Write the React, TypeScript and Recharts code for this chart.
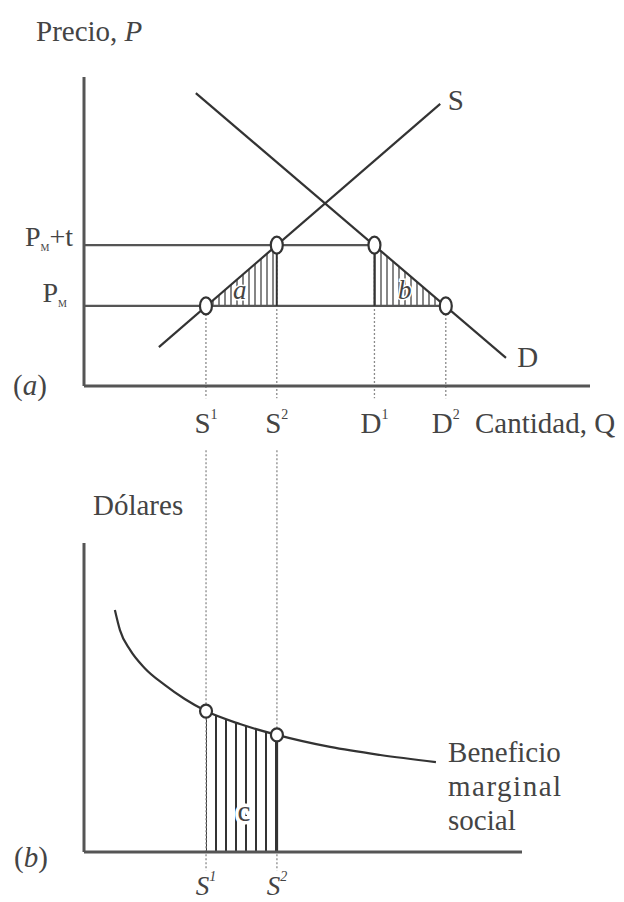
import { ComposedChart, Line, Area, Scatter, XAxis, YAxis, ReferenceLine, ReferenceDot, Label } from 'recharts';

const SERIF = '"Liberation Serif", "DejaVu Serif", serif';
const INK = '#333';
const TEXT = '#444';
const AXIS = '#555';
const DOTTED = '#8a8a8a';

// ---- panel (a): supply / demand with tariff (both axes in 0-100 units) ----
const PM = 25.9; // world price
const PMT = 45.6; // world price + tariff
const S1 = 24.1;
const S2 = 38.1;
const D1 = 57.4;
const D2 = 71.5;

const supply = [{ q: 14.8, p: 12.6 }, { q: 70.4, p: 91.3 }];
const demand = [{ q: 22.1, p: 94.8 }, { q: 83.4, p: 9.1 }];
const taxPriceLine = [{ q: 0, p: PMT }, { q: D1, p: PMT }];
const worldPriceLine = [{ q: 0, p: PM }, { q: D2, p: PM }];
const areaA = [{ q: S1, band: [PM, PM] }, { q: S2, band: [PM, PMT] }];
const areaB = [{ q: D1, band: [PM, PMT] }, { q: D2, band: [PM, PM] }];
const edgeA = [{ q: S2, p: PM }, { q: S2, p: PMT }];
const edgeB = [{ q: D1, p: PM }, { q: D1, p: PMT }];
const circlesA = [{ q: S1, p: PM }, { q: S2, p: PMT }, { q: D1, p: PMT }, { q: D2, p: PM }];
const qTicksA = [S1, S2, D1, D2];
const qLabelsA = [['S', '1'], ['S', '2'], ['D', '1'], ['D', '2']];
const pTicksA = [PM, PMT];

// ---- panel (b): marginal social benefit ----
const Q_MAX_B = 86.5;
const benefit = [
  { q: 6.1, p: 78.3 },
  { q: 7.1, p: 71.8 },
  { q: 9.1, p: 65.4 },
  { q: 12.0, p: 59.5 },
  { q: 16.0, p: 54.0 },
  { q: 19.9, p: 49.5 },
  { q: S1, p: 45.6 },
  { q: 30.8, p: 41.4 },
  { q: S2, p: 37.9 },
  { q: 48.6, p: 34.0 },
  { q: 58.5, p: 31.4 },
  { q: 69.5, p: 29.1 },
];
const areaC = benefit.filter((d) => d.q >= S1 && d.q <= S2);
const circlesB = benefit.filter((d) => d.q === S1 || d.q === S2);
const edgeC = [{ q: S2, p: 0 }, { q: S2, p: 37.9 }];
const qTicksB = [S1, S2];
const qLabelsB = [['S', '1'], ['S', '2']];
const benefitLabel = ['Beneficio', 'marginal', 'social'];

// text placed at a data point (ReferenceDot with r=0)
const tag = (text: string, opts: { size?: number; italic?: boolean; halo?: number } = {}) => (props: any) => {
  const { x, y } = props.viewBox;
  return (
    <text
      x={x}
      y={y}
      textAnchor="middle"
      dominantBaseline="central"
      fontFamily={SERIF}
      fontSize={opts.size ?? 29}
      fontStyle={opts.italic ? 'italic' : 'normal'}
      fill={TEXT}
      stroke={opts.halo ? '#fff' : 'none'}
      strokeWidth={opts.halo ?? 0}
      paintOrder="stroke"
    >
      {text}
    </text>
  );
};

const qTick = (labels: string[][], ticks: number[], italic: boolean, dy: number, size: number) => (props: any) => {
  const { x, y, payload } = props;
  const i = ticks.findIndex((t) => Math.abs(t - payload.value) < 1e-6);
  if (i < 0) return <g />;
  return (
    <text x={x} y={y + dy} textAnchor="middle" fontFamily={SERIF} fontSize={size} fill={TEXT} fontStyle={italic ? 'italic' : 'normal'}>
      {labels[i][0]}
      <tspan fontSize={14} dy={-14}>{labels[i][1]}</tspan>
    </text>
  );
};

const PriceTick = (props: any) => {
  const { x, y, payload } = props;
  const withTax = Math.abs(payload.value - PMT) < 1e-6;
  return (
    <text x={withTax ? x - 11 : x - 17} y={withTax ? y + 1 : y - 4} textAnchor="end" fontFamily={SERIF} fontSize={28} fill={TEXT}>
      P<tspan fontSize={10} dy={5}>M</tspan>
      {withTax ? <tspan dy={-5}>+t</tspan> : null}
    </text>
  );
};

const ring = (rx: number, ry: number) => (props: any) => (
  <ellipse cx={props.cx} cy={props.cy} rx={rx} ry={ry} fill="#fff" stroke={INK} strokeWidth={2.2} />
);

const dotted = { stroke: DOTTED, strokeDasharray: '2 2', strokeWidth: 1.3, ifOverflow: 'visible' as const };

export default function App() {
  return (
    <div style={{ width: 624, height: 902, position: 'relative', background: '#fff' }}>
      <style>{'body{margin:0}'}</style>

      {/* (a) */}
      <div style={{ position: 'absolute', left: 0, top: 0 }}>
        <ComposedChart width={624} height={450} margin={{ top: 77, right: 34, bottom: 0, left: 0 }}>
          <defs>
            <pattern id="hatchAB" width="6" height="6" patternUnits="userSpaceOnUse">
              <line x1="3" y1="0" x2="3" y2="6" stroke="#444" strokeWidth="1.3" />
            </pattern>
          </defs>
          <XAxis
            type="number"
            dataKey="q"
            domain={[0, 100]}
            allowDataOverflow
            ticks={qTicksA}
            interval={0}
            tickLine={false}
            tickSize={0}
            tickMargin={0}
            tick={qTick(qLabelsA, qTicksA, false, 47, 29)}
            axisLine={{ stroke: AXIS, strokeWidth: 3 }}
            height={64}
          >
            <Label
              content={(p: any) => {
                const vb = p.viewBox || { x: 84, y: 386 };
                return (
                  <text x={vb.x + 391} y={vb.y + 47} fontFamily={SERIF} fontSize={29} fill={TEXT}>
                    Cantidad, Q
                  </text>
                );
              }}
            />
          </XAxis>
          <YAxis
            type="number"
            dataKey="p"
            domain={[0, 100]}
            allowDataOverflow
            ticks={pTicksA}
            interval={0}
            tickLine={false}
            tickSize={0}
            tickMargin={0}
            tick={PriceTick}
            axisLine={{ stroke: AXIS, strokeWidth: 3 }}
            width={84}
          >
            <Label
              content={(p: any) => {
                const vb = p.viewBox || { x: 0, y: 77, width: 84, height: 309 };
                return (
                  <g fontFamily={SERIF} fill={TEXT}>
                    <text x={36} y={vb.y - 36} fontSize={29}>
                      Precio, <tspan fontStyle="italic">P</tspan>
                    </text>
                    <text x={30} y={vb.y + vb.height + 9} fontSize={29} textAnchor="middle">
                      (<tspan fontStyle="italic">a</tspan>)
                    </text>
                  </g>
                );
              }}
            />
          </YAxis>

          <Area data={areaA} dataKey="band" type="linear" stroke="none" fill="url(#hatchAB)" fillOpacity={1} isAnimationActive={false} />
          <Area data={areaB} dataKey="band" type="linear" stroke="none" fill="url(#hatchAB)" fillOpacity={1} isAnimationActive={false} />

          <ReferenceLine segment={[{ x: S1, y: PM }, { x: S1, y: -4 }]} {...dotted} />
          <ReferenceLine segment={[{ x: S2, y: PMT }, { x: S2, y: -4 }]} {...dotted} />
          <ReferenceLine segment={[{ x: D1, y: PMT }, { x: D1, y: -4 }]} {...dotted} />
          <ReferenceLine segment={[{ x: D2, y: PM }, { x: D2, y: -4 }]} {...dotted} />

          <Line data={taxPriceLine} dataKey="p" stroke={AXIS} strokeWidth={2.2} dot={false} activeDot={false} isAnimationActive={false} />
          <Line data={worldPriceLine} dataKey="p" stroke={AXIS} strokeWidth={2.2} dot={false} activeDot={false} isAnimationActive={false} />
          <Line data={edgeA} dataKey="p" stroke={INK} strokeWidth={2} dot={false} activeDot={false} isAnimationActive={false} />
          <Line data={edgeB} dataKey="p" stroke={INK} strokeWidth={2} dot={false} activeDot={false} isAnimationActive={false} />
          <Line data={supply} dataKey="p" stroke={INK} strokeWidth={2.2} dot={false} activeDot={false} isAnimationActive={false} />
          <Line data={demand} dataKey="p" stroke={INK} strokeWidth={2.2} dot={false} activeDot={false} isAnimationActive={false} />

          <Scatter data={circlesA} shape={ring(6, 8.5)} isAnimationActive={false} />

          <ReferenceDot x={73.5} y={92.6} r={0} stroke="none" fill="none">
            <Label content={tag('S')} />
          </ReferenceDot>
          <ReferenceDot x={87.7} y={9.4} r={0} stroke="none" fill="none">
            <Label content={tag('D')} />
          </ReferenceDot>
          <ReferenceDot x={30.8} y={31.0} r={0} stroke="none" fill="none">
            <Label content={tag('a', { size: 27, italic: true, halo: 3 })} />
          </ReferenceDot>
          <ReferenceDot x={63.4} y={31.2} r={0} stroke="none" fill="none">
            <Label content={tag('b', { size: 27, italic: true, halo: 3 })} />
          </ReferenceDot>
        </ComposedChart>
      </div>

      {/* (b) */}
      <div style={{ position: 'absolute', left: 0, top: 450 }}>
        <ComposedChart width={624} height={452} margin={{ top: 93, right: 102, bottom: 0, left: 0 }}>
          <defs>
            <pattern id="hatchC" width="10" height="10" patternUnits="userSpaceOnUse">
              <line x1="6" y1="0" x2="6" y2="10" stroke={INK} strokeWidth="2" />
            </pattern>
          </defs>
          <XAxis
            type="number"
            dataKey="q"
            domain={[0, Q_MAX_B]}
            allowDataOverflow
            ticks={qTicksB}
            interval={0}
            tickLine={false}
            tickSize={0}
            tickMargin={0}
            tick={qTick(qLabelsB, qTicksB, true, 43, 27)}
            axisLine={{ stroke: AXIS, strokeWidth: 3 }}
            height={50}
          />
          <YAxis
            type="number"
            dataKey="p"
            domain={[0, 100]}
            allowDataOverflow
            tick={false}
            tickLine={false}
            axisLine={{ stroke: AXIS, strokeWidth: 3 }}
            width={84}
          >
            <Label
              content={(p: any) => {
                const vb = p.viewBox || { x: 0, y: 93, width: 84, height: 309 };
                return (
                  <g fontFamily={SERIF} fill={TEXT} fontSize={29}>
                    <text x={93} y={vb.y - 28}>Dólares</text>
                    <text x={31} y={vb.y + vb.height + 15} textAnchor="middle">
                      (<tspan fontStyle="italic">b</tspan>)
                    </text>
                  </g>
                );
              }}
            />
          </YAxis>

          <Area data={areaC} dataKey="p" type="monotone" stroke="none" fill="url(#hatchC)" fillOpacity={1} baseValue={0} isAnimationActive={false} />

          <ReferenceLine segment={[{ x: S1, y: 130 }, { x: S1, y: -6 }]} {...dotted} />
          <ReferenceLine segment={[{ x: S2, y: 130 }, { x: S2, y: -6 }]} {...dotted} />

          <Line data={edgeC} dataKey="p" stroke={INK} strokeWidth={2.4} dot={false} activeDot={false} isAnimationActive={false} />
          <Line data={benefit} dataKey="p" type="monotone" stroke={INK} strokeWidth={2.2} dot={false} activeDot={false} isAnimationActive={false} />

          <Scatter data={circlesB} shape={ring(6, 6.5)} isAnimationActive={false} />

          <ReferenceDot x={31.6} y={13.3} r={0} stroke="none" fill="none">
            <Label content={tag('c', { size: 29, halo: 7 })} />
          </ReferenceDot>
          <ReferenceDot x={71.9} y={29.1} r={0} stroke="none" fill="none">
            <Label
              content={(p: any) => {
                const { x, y } = p.viewBox;
                return (
                  <text x={x} y={y} fontFamily={SERIF} fontSize={29} fill={TEXT}>
                    {benefitLabel.map((line, i) => (
                      <tspan key={line} x={x} dy={i === 0 ? 0 : 34} letterSpacing={line === 'marginal' ? 1.5 : 0}>
                        {line}
                      </tspan>
                    ))}
                  </text>
                );
              }}
            />
          </ReferenceDot>
        </ComposedChart>
      </div>
    </div>
  );
}
